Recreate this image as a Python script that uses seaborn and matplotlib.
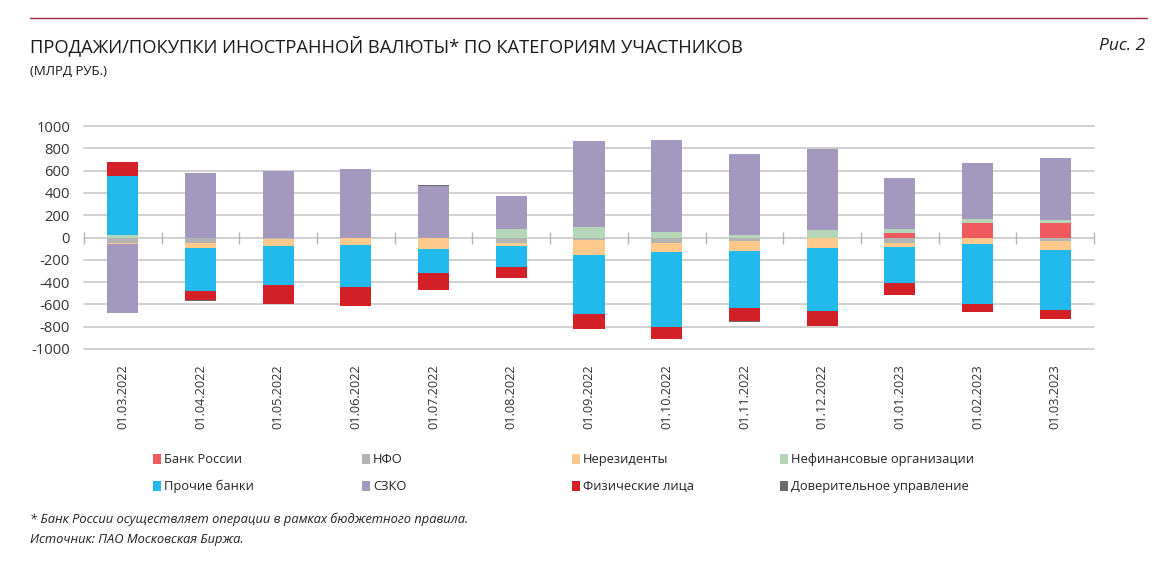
import numpy as np
import matplotlib
matplotlib.use("Agg")
import matplotlib.pyplot as plt
from matplotlib.patches import Rectangle
from matplotlib.lines import Line2D
import seaborn as sns

# данные, млрд руб. (оценка по рисунку)
dates = ['01.03.2022', '01.04.2022', '01.05.2022', '01.06.2022', '01.07.2022',
         '01.08.2022', '01.09.2022', '01.10.2022', '01.11.2022', '01.12.2022',
         '01.01.2023', '01.02.2023', '01.03.2023']

bank_russia = [0, 0, 0, 0, 0, 0, 0, 0, 0, 0, 38, 134, 128]
nfo = [-48, -47, -10, -8, -4, -50, -20, -52, -27, -4, -45, -6, -28]
nonres = [-10, -45, -62, -57, -98, -28, -135, -78, -95, -93, -44, -52, -80]
nonfin = [22, 0, 0, 0, 0, 80, 98, 45, 24, 71, 42, 34, 30]
other_banks = [532, -384, -355, -378, -215, -188, -529, -673, -506, -563, -322, -536, -545]
szko = [-620, 575, 598, 616, 465, 290, 765, 825, 724, 724, 453, 503, 556]
fiz = [122, -87, -169, -173, -158, -98, -138, -110, -119, -134, -104, -74, -78]
trust = [0, -8, 0, 0, 6, 6, 0, 0, -8, 0, 0, 0, 0]

names = ['Банк России', 'НФО', 'Нерезиденты', 'Нефинансовые организации',
         'Прочие банки', 'СЗКО', 'Физические лица', 'Доверительное управление']
colors = ['#F05A5E', '#B4B4B4', '#FDCA8B', '#B6D7B7',
          '#22B9EC', '#A399BF', '#D32027', '#6B6B6B']

sns.set_style("white")
plt.rcParams['font.family'] = ['Open Sans', 'DejaVu Sans']
plt.rcParams['axes.unicode_minus'] = False

fig = plt.figure(figsize=(11.62, 5.63), dpi=100)
W, H = 1162, 563
ax = fig.add_axes([84 / W, 1 - 349 / H, 1010 / W, 223 / H])

# стек: положительные вверх, отрицательные вниз (рисуем накопленные суммы с конца)
vals = np.array([bank_russia, nfo, nonres, nonfin, other_banks, szko, fiz, trust], dtype=float)
pos = np.clip(vals, 0, None).cumsum(axis=0)
neg = np.clip(vals, None, 0).cumsum(axis=0)
for i in reversed(range(len(names))):
    for cum in (pos[i], neg[i]):
        sns.barplot(x=dates, y=cum, color=colors[i], width=0.4, saturation=1,
                    linewidth=0, errorbar=None, ax=ax, zorder=3)

ax.set_ylim(-1000, 1000)
ax.set_xlim(-0.5, len(dates) - 0.5)
ax.set_yticks(np.arange(-1000, 1001, 200))
ax.yaxis.grid(True, color='#c8c8c8', linewidth=1.2)
ax.set_axisbelow(True)
for gl in ax.get_ygridlines():
    gl.set_clip_on(False)
for s in ax.spines.values():
    s.set_visible(False)
ax.set_xlabel('')
ax.set_ylabel('')
ax.tick_params(axis='y', length=0, pad=10, labelsize=10.6, labelcolor='#333333')
ax.tick_params(axis='x', length=0, pad=11, labelsize=9.2, labelcolor='#333333')
ax.set_xticks(range(len(dates)))
ax.set_xticklabels(dates, rotation=90)

# засечки на нулевой линии между категориями
ax.plot(np.arange(len(dates) + 1) - 0.5, np.zeros(len(dates) + 1), ls='none',
        marker='|', ms=9, mew=1, color='#b5b5b5', zorder=2, clip_on=False)

# заголовок
fig.add_artist(Line2D([30 / W, 1147 / W], [1 - 18 / H, 1 - 18 / H], color='#A8263E', lw=1))
fig.text(30 / W, 1 - 46 / H, 'ПРОДАЖИ/ПОКУПКИ ИНОСТРАННОЙ ВАЛЮТЫ* ПО КАТЕГОРИЯМ УЧАСТНИКОВ',
         fontsize=13.2, color='#1a1a1a', va='center', ha='left')
fig.text(30 / W, 1 - 71 / H, '(МЛРД РУБ.)', fontsize=9.5, color='#1a1a1a', va='center', ha='left')
fig.text(1145 / W, 1 - 46 / H, 'Рис. 2', fontsize=12.5, style='italic', color='#1a1a1a',
         va='center', ha='right')

# легенда
col_x = [153, 362, 572, 780]
row_y = [459, 486]
for i, (name, c) in enumerate(zip(names, colors)):
    x0 = col_x[i % 4]
    y0 = row_y[i // 4]
    fig.add_artist(Rectangle((x0 / W, 1 - (y0 + 5) / H), 8 / W, 10 / H,
                             transform=fig.transFigure, color=c, lw=0))
    fig.text((x0 + 11) / W, 1 - (y0 + 4) / H, name, fontsize=9.3, color='#222222',
             va='baseline', ha='left')

fig.text(30 / W, 1 - 523 / H, '* Банк России осуществляет операции в рамках бюджетного правила.',
         fontsize=9.3, style='italic', color='#222222', va='baseline', ha='left')
fig.text(30 / W, 1 - 543 / H, 'Источник: ПАО Московская Биржа.',
         fontsize=9.3, style='italic', color='#222222', va='baseline', ha='left')

fig.savefig('out.png', dpi=100)
